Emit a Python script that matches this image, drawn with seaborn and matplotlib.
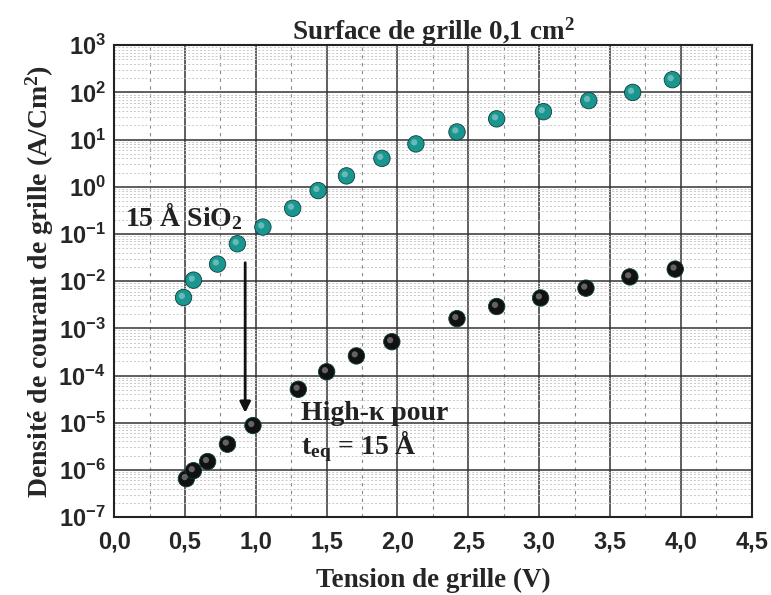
import matplotlib
matplotlib.use("Agg")
import matplotlib.pyplot as plt
import seaborn as sns
import numpy as np
import pandas as pd
from matplotlib.ticker import FixedLocator, LogLocator, NullFormatter, FuncFormatter

# ---- data ----
sio2_v = [0.49, 0.56, 0.73, 0.87, 1.05, 1.26, 1.44, 1.64, 1.89, 2.13, 2.42, 2.70, 3.03, 3.35, 3.66, 3.94]
sio2_j = [4.5e-3, 1.05e-2, 2.3e-2, 6.2e-2, 0.14, 0.35, 0.83, 1.7, 4.0, 8.1, 14.5, 27.5, 39, 67, 100, 186]
hk_v = [0.51, 0.56, 0.66, 0.80, 0.98, 1.30, 1.50, 1.71, 1.96, 2.42, 2.70, 3.01, 3.33, 3.64, 3.96]
hk_j = [6.5e-7, 9.6e-7, 1.5e-6, 3.5e-6, 8.7e-6, 5.1e-5, 1.2e-4, 2.6e-4, 5.2e-4, 1.6e-3, 2.9e-3, 4.4e-3, 7.1e-3, 1.23e-2, 1.8e-2]
x_ticks = [0.0, 0.5, 1.0, 1.5, 2.0, 2.5, 3.0, 3.5, 4.0, 4.5]
y_decades = [-7, -6, -5, -4, -3, -2, -1, 0, 1, 2, 3]

df = pd.concat([
    pd.DataFrame({"V": sio2_v, "J": sio2_j, "s": "SiO2"}),
    pd.DataFrame({"V": hk_v, "J": hk_j, "s": "HK"}),
])

sns.set_style("white")
plt.rcParams["mathtext.fontset"] = "custom"
plt.rcParams["mathtext.rm"] = "Liberation Serif:bold"
plt.rcParams["mathtext.bf"] = "Liberation Serif:bold"
plt.rcParams["mathtext.it"] = "Liberation Serif:bold"
plt.rcParams["mathtext.sf"] = "Liberation Sans:bold"
serif = ["Liberation Serif", "DejaVu Serif"]
sans = ["Liberation Sans", "DejaVu Sans"]

fig = plt.figure(figsize=(7.71, 5.95), dpi=100)
ax = fig.add_axes([0.148, 0.131, 0.827, 0.793])

ax.set_yscale("log")
ax.set_xlim(0, 4.5)
ax.set_ylim(1e-7, 1e3)

# grids
ax.set_xticks(x_ticks)
ax.xaxis.set_minor_locator(FixedLocator(np.arange(0.25, 4.5, 0.5)))
ax.yaxis.set_major_locator(FixedLocator([10.0 ** d for d in y_decades]))
ax.yaxis.set_minor_locator(LogLocator(base=10, subs=np.arange(2, 10), numticks=50))
ax.yaxis.set_minor_formatter(NullFormatter())
ax.grid(True, which="major", color="#333333", lw=1.1, zorder=0)
ax.grid(True, which="minor", axis="y", color="#c8c8c8", lw=0.7, ls=(0, (2, 2)), zorder=0)
ax.grid(True, which="minor", axis="x", color="#888888", lw=0.8, ls=(0, (3, 4)), zorder=0)

palette = {"SiO2": "#1a9690", "HK": "#111111"}
sns.scatterplot(data=df, x="V", y="J", hue="s", palette=palette, s=140,
                edgecolor="#0c3f3c", linewidth=0.6, legend=False, ax=ax, zorder=3)
hl_v = np.array(sio2_v + hk_v)
hl_j = np.array(sio2_j + hk_j)
ax.scatter(hl_v - 0.012, hl_j * 1.08, s=20, color="white", alpha=0.35,
           edgecolor="none", zorder=4)

ax.xaxis.set_major_formatter(FuncFormatter(lambda v, p: f"{v:.1f}".replace(".", ",")))
ax.yaxis.set_major_formatter(FuncFormatter(lambda v, p: r"$\mathsf{10^{%d}}$" % int(round(np.log10(v)))))

ax.tick_params(axis="x", which="major", direction="out", length=6, width=1.2, labelsize=17, pad=4)
ax.tick_params(axis="x", which="minor", direction="out", length=4, width=1.0)
ax.tick_params(axis="y", which="major", direction="in", length=6, width=1.2, labelsize=17, pad=6)
ax.tick_params(axis="y", which="minor", direction="in", length=3, width=1.0)
for lab in ax.get_xticklabels() + ax.get_yticklabels():
    lab.set_fontfamily(sans)
    lab.set_fontweight("bold")

for sp in ax.spines.values():
    sp.set_color("#222222")
    sp.set_linewidth(1.5)

ax.set_xlabel("Tension de grille (V)", fontsize=19.5, fontweight="bold", family=serif, labelpad=10)
ax.set_ylabel("Densité de courant de grille (A/Cm$^2$)", fontsize=20, fontweight="bold",
              family=serif, labelpad=2)
ax.set_title("Surface de grille 0,1 cm$^2$", fontsize=19.5, fontweight="bold", family=serif, pad=4)

ax.text(0.08, 10 ** -0.63, "15 Å SiO$_2$", fontsize=20, fontweight="bold", family=serif,
        va="center", ha="left", color="#222222", zorder=5)
ax.text(1.32, 10 ** -4.8, "High-κ pour", fontsize=20, fontweight="bold", family=serif,
        va="center", ha="left", color="#222222", zorder=5)
ax.text(1.32, 10 ** -5.5, "t$_{eq}$ = 15 Å", fontsize=20, fontweight="bold", family=serif,
        va="center", ha="left", color="#222222", zorder=5)
ax.annotate("", xy=(0.925, 10 ** -4.85), xytext=(0.925, 10 ** -1.55),
            arrowprops=dict(arrowstyle="-|>", color="#111111", lw=2, mutation_scale=16), zorder=5)

fig.savefig("out.png", dpi=100)
